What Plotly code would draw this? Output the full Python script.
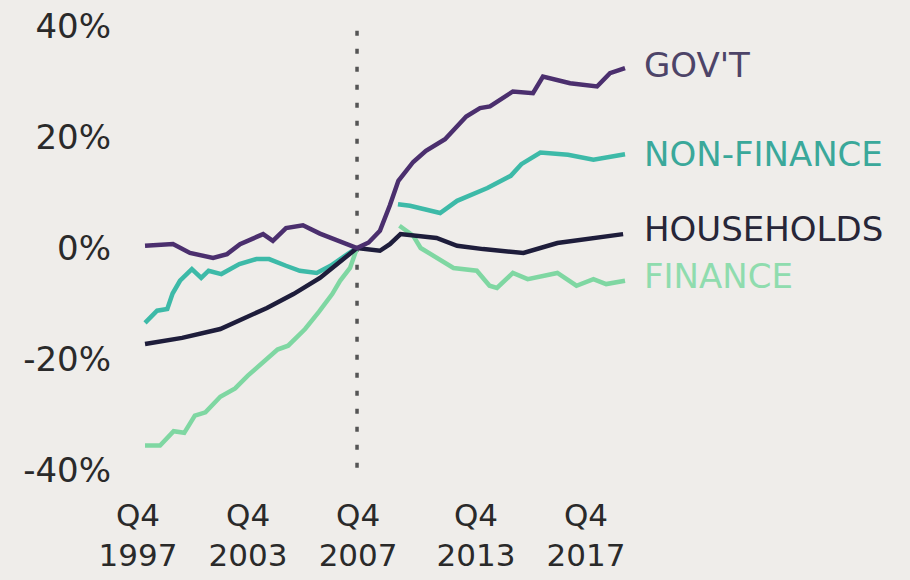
import plotly.graph_objects as go

# ---------------- data (decimal years, % change vs Q4 2007) ----------------
gov_x = [1997.75, 1999.07, 1999.87, 2000.96, 2001.62, 2002.23, 2003.32, 2003.78, 2004.40,
         2005.20, 2006.00, 2006.75, 2007.75, 2008.30, 2008.83, 2009.30, 2009.70, 2010.40,
         2011.00, 2011.90, 2012.90, 2013.55, 2014.02, 2015.10, 2016.05, 2016.52, 2017.80,
         2019.07, 2019.68, 2020.39]
gov_y = [0.4, 0.7, -0.9, -1.8, -1.1, 0.7, 2.5, 1.3, 3.6,
         4.1, 2.6, 1.4, 0.0, 1.0, 3.1, 7.7, 12.1, 15.5,
         17.5, 19.6, 23.7, 25.2, 25.5, 28.2, 27.9, 30.9, 29.7,
         29.1, 31.5, 32.4]

nonfin_x = [1997.75, 1998.32, 1998.80, 1999.05, 1999.40, 1999.96, 2000.40, 2000.75, 2001.35,
            2002.20, 2003.00, 2003.60, 2004.40, 2005.05, 2005.85, 2006.50, 2007.30, 2007.75,
            2008.50,
            2009.68, 2010.25, 2011.67, 2012.47, 2013.90, 2015.00, 2015.50, 2016.40, 2017.70,
            2018.90, 2020.39]
nonfin_y = [-13.5, -11.3, -11.0, -8.2, -5.9, -3.8, -5.4, -4.1, -4.7,
            -2.9, -2.0, -2.0, -3.2, -4.1, -4.5, -3.2, -1.1, 0.0,
            None,
            7.9, 7.6, 6.3, 8.5, 10.8, 13.0, 15.1, 17.2, 16.8,
            15.9, 16.9]

house_x = [1997.75, 1999.50, 2001.30, 2002.20, 2003.50, 2004.75, 2006.00, 2007.75,
           2008.83, 2009.30, 2009.80, 2011.50, 2012.47, 2013.70, 2015.60, 2017.20, 2020.30]
house_y = [-17.3, -16.2, -14.6, -13.1, -10.8, -8.3, -5.4, 0.0,
           -0.5, 0.7, 2.5, 1.8, 0.4, -0.2, -0.9, 0.9, 2.5]

fin_x = [1997.75, 1998.46, 1999.10, 1999.60, 2000.10, 2000.60, 2001.30, 2002.00, 2002.60,
         2003.50, 2004.00, 2004.50, 2005.30, 2005.95, 2006.58, 2006.95, 2007.42, 2007.75,
         2008.70,
         2009.75, 2010.40, 2010.75, 2011.67, 2012.30, 2013.40, 2014.00, 2014.35, 2015.10,
         2015.80, 2017.20, 2018.10, 2018.90, 2019.50, 2020.39]
fin_y = [-35.6, -35.6, -33.0, -33.3, -30.2, -29.6, -26.8, -25.3, -23.0,
         -20.0, -18.3, -17.6, -14.6, -11.5, -8.3, -5.9, -3.6, 0.0,
         None,
         4.0, 2.2, 0.0, -2.0, -3.6, -4.1, -6.8, -7.2, -4.5,
         -5.6, -4.5, -6.8, -5.6, -6.5, -5.9]

series_names = ["GOV'T", "NON-FINANCE", "HOUSEHOLDS", "FINANCE"]
label_y = [33.0, 16.9, 3.4, -5.0]

tick_vals = [1997.42, 2002.61, 2007.80, 2013.36, 2018.55]
tick_text = ["Q4<br>1997", "Q4<br>2003", "Q4<br>2007", "Q4<br>2013", "Q4<br>2017"]
y_ticks = [-40, -20, 0, 20, 40]
y_text = ["-40%", "-20%", "0%", "20%", "40%"]
crisis_x = 2007.75

# ---------------- styling ----------------
line_colors = ["#4b2f6e", "#3dbaa8", "#1e1d3b", "#7fd7a2"]
label_colors = ["#4d4468", "#3aa89a", "#272638", "#8fdcae"]
BG = "#efedea"
FONT = "DejaVu Sans"

fig = go.Figure()
order = [3, 1, 2, 0]
all_x = [gov_x, nonfin_x, house_x, fin_x]
all_y = [gov_y, nonfin_y, house_y, fin_y]
for i in order:
    fig.add_trace(go.Scatter(x=all_x[i], y=all_y[i], mode="lines", name=series_names[i],
                             line=dict(color=line_colors[i], width=4.5), connectgaps=False))

fig.add_shape(type="line", xref="x", yref="y", x0=crisis_x, x1=crisis_x,
              y0=-39.6, y1=41.2, layer="below",
              line=dict(color="#555555", width=3.5, dash="5px,13px"))

for n, yv, c in zip(series_names, label_y, label_colors):
    fig.add_annotation(x=2021.19, y=yv, xref="x", yref="y", text=n, showarrow=False,
                       xanchor="left", yanchor="middle",
                       font=dict(family=FONT, size=34, color=c))

fig.update_layout(
    width=910, height=580,
    margin=dict(l=120, r=10, t=16, b=102),
    paper_bgcolor=BG, plot_bgcolor=BG,
    showlegend=False,
    font=dict(family=FONT, color="#2a2a2a"),
)
fig.update_xaxes(range=[1996.57, 2033.36], showgrid=False, zeroline=False, showline=False,
                 tickvals=tick_vals, ticktext=tick_text, ticks="", automargin=False,
                 tickfont=dict(family=FONT, size=31, color="#2a2a2a"),
                 ticklabelstandoff=16)
fig.update_yaxes(range=[-41.44, 41.8], showgrid=False, zeroline=False, showline=False,
                 tickvals=y_ticks, ticktext=y_text, ticks="", automargin=False,
                 tickfont=dict(family=FONT, size=34, color="#2a2a2a"),
                 ticklabelstandoff=8)

fig.write_html("out.html", config={"displayModeBar": False},
               post_script="document.body.style.margin='0';"
                           "document.body.style.background='#efedea';")
